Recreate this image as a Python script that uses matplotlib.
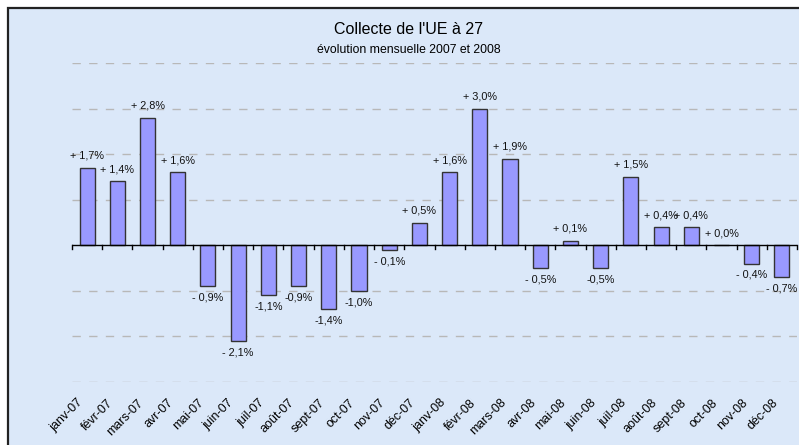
import matplotlib.pyplot as plt
import matplotlib.transforms as mtransforms
from matplotlib.patches import Rectangle

plt.rcParams["font.family"] = ["Liberation Sans", "DejaVu Sans"]

# monthly data 2007-2008
months = [
    "janv-07", "févr-07", "mars-07", "avr-07", "mai-07", "juin-07",
    "juil-07", "août-07", "sept-07", "oct-07", "nov-07", "déc-07",
    "janv-08", "févr-08", "mars-08", "avr-08", "mai-08", "juin-08",
    "juil-08", "août-08", "sept-08", "oct-08", "nov-08", "déc-08",
]
values = [
    1.7, 1.4, 2.8, 1.6, -0.9, -2.1, -1.1, -0.9, -1.4, -1.0, -0.1, 0.5,
    1.6, 3.0, 1.9, -0.5, 0.1, -0.5, 1.5, 0.4, 0.4, 0.0, -0.4, -0.7,
]
value_labels = [
    "+ 1,7%", "+ 1,4%", "+ 2,8%", "+ 1,6%", "- 0,9%", "- 2,1%",
    "-1,1%", "-0,9%", "-1,4%", "-1,0%", "- 0,1%", "+ 0,5%",
    "+ 1,6%", "+ 3,0%", "+ 1,9%", "- 0,5%", "+ 0,1%", "-0,5%",
    "+ 1,5%", "+ 0,4%", "+ 0,4%", "+ 0,0%", "- 0,4%", "- 0,7%",
]
grid_levels = [-3, -2, -1, 1, 2, 3, 4]

bg = "#dbe8f9"

fig = plt.figure(figsize=(7.99, 4.45), dpi=100)
fig.patch.set_facecolor("white")

# chart frame (cut at right and bottom)
frame = Rectangle((7.5 / 799, -0.05), 1.1, 1 - 7.5 / 445 + 0.05,
                  transform=fig.transFigure, facecolor=bg,
                  edgecolor="#222222", linewidth=1.6, zorder=-10)
fig.patches.append(frame)

ax = fig.add_axes([72 / 799, 1 - 382 / 445, 725 / 799, 319 / 445])
ax.set_facecolor("none")
ax.set_xlim(-0.5, len(months) - 0.5)
ax.set_ylim(-3, 4)

for g in grid_levels:
    ax.axhline(g, color="#b8b8b8", linewidth=1, linestyle=(0, (6, 6)), zorder=0)

x = list(range(len(months)))
ax.bar(x, values, width=0.5, color="#9999ff", edgecolor="#333333",
       linewidth=1, zorder=2)

for i, (v, lab) in enumerate(zip(values, value_labels)):
    if v >= 0:
        ax.annotate(lab, (i, v), xytext=(0, 5), textcoords="offset points",
                    ha="center", va="bottom", fontsize=7.8, color="#111111")
    else:
        ax.annotate(lab, (i, v), xytext=(0, -4.5), textcoords="offset points",
                    ha="center", va="top", fontsize=7.8, color="#111111")

for s in ax.spines.values():
    s.set_visible(False)
ax.axhline(0, color="black", linewidth=1, zorder=3)

# tick marks at category boundaries on the zero line
ax.set_yticks([])
ax.set_xticks([])
for b in range(len(months) + 1):
    ax.plot([b - 0.5, b - 0.5], [0, -0.09], color="black", linewidth=1,
            zorder=3, clip_on=False)

trans = mtransforms.blended_transform_factory(ax.transData, fig.transFigure)
for i, m in enumerate(months):
    ax.text(i - 0.2, 1 - 401 / 445, m, transform=trans, rotation=45,
            rotation_mode="anchor", ha="right", va="center", fontsize=9)

fig.text(409 / 799, 1 - 30 / 445, "Collecte de l'UE à 27", ha="center",
         va="center", fontsize=11.5)
fig.text(409 / 799, 1 - 50 / 445, "évolution mensuelle 2007 et 2008",
         ha="center", va="center", fontsize=8.8)

fig.savefig("out.png", dpi=100)
